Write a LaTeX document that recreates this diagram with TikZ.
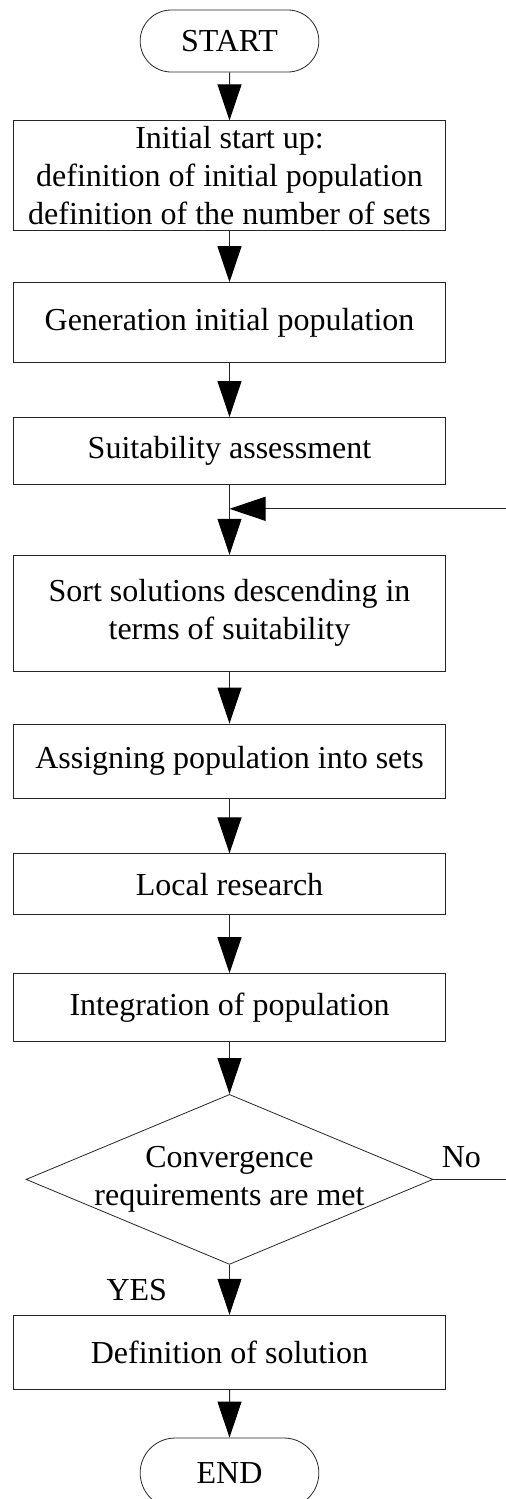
\documentclass[tikz,border=0pt]{standalone}
\usepackage{fontspec}
\setmainfont{Liberation Serif}
\usetikzlibrary{arrows.meta,shapes,positioning,calc}
\tikzset{
    proc/.style={
        rectangle,
        draw=black!85,
        minimum width=216pt,
        inner sep=1pt,
        align=center,
    },
    term/.style={
        rounded rectangle,
        draw=black!85,
        minimum width=96pt,
        minimum height=31pt,
    },
    dec/.style={
        diamond,
        draw=black!85,
        minimum width=203.5pt,
        minimum height=85pt,
        inner sep=0pt,
    },
    flow/.style={
        draw=black!85,
        -{Triangle[length=18pt,width=12pt,color=black]},
        line width=0.5pt
    },
    every node/.style={font=\fontsize{16}{19}\selectfont},
    every edge/.style={flow},
  }

\begin{document}
\begin{tikzpicture}
              \useasboundingbox (0,0) rectangle (253pt,-749.5pt);
              \node [term] (start) at (114.75pt,-20.5pt) {START};
              \node [proc, minimum height=55pt, below=24pt of start] (init) {Initial start up:\\definition of initial population\\definition of the number of sets};
              \node [proc, minimum height=40pt, below=25.5pt of init] (gen) {Generation initial population};
              \node [proc, minimum height=33.5pt, below=27pt of gen] (suit) {Suitability assessment};
              \node [proc, minimum height=58pt, below=35pt of suit] (sort) {Sort solutions descending in\\terms of suitability};
              \node [proc, minimum height=37pt, below=26pt of sort] (assign) {Assigning population into sets};
              \node [proc, minimum height=30.5pt, below=27.5pt of assign] (local) {Local research};
              \node [proc, minimum height=34pt, below=29pt of local] (integ) {Integration of population};
              \node [dec, below=26pt of integ] (conv) {};
              \node [align=center] (convtxt) at (conv) {Convergence\\requirements are met};
              \node [proc, minimum height=37pt, below=25pt of conv] (defsol) {Definition of solution};
              \node [term, minimum height=35pt, below=24pt of defsol] (stop) {END};
              \node [anchor=south west, inner sep=0pt] (no) at ([xshift=4pt,yshift=5.5pt]conv.east) {No};
              \coordinate [below=12pt of suit] (join);

              \draw (start) edge (init);
              \draw (init) edge (gen);
              \draw (gen) edge (suit);
              \draw (suit) edge (sort);
              \draw (sort) edge (assign);
              \draw (assign) edge (local);
              \draw (local) edge (integ);
              \draw (integ) edge (conv);
              \draw (conv) edge node[left=31pt, inner sep=0pt] (yes) {YES} (defsol);
              \draw (defsol) edge (stop);
              \draw [flow] (conv.east) -- ++(38pt,0) coordinate (turn) |- (join);
            \end{tikzpicture}
\end{document}
